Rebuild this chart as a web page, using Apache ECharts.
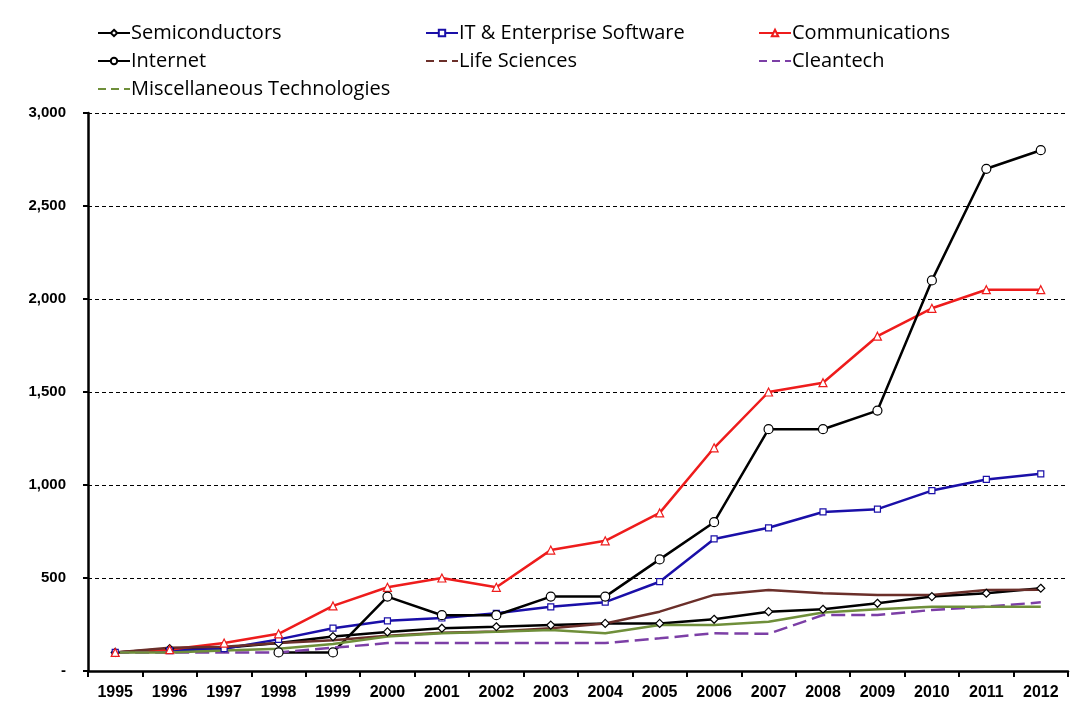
<!DOCTYPE html>
<html>
<head>
<meta charset="utf-8">
<script src="https://cdn.jsdelivr.net/npm/echarts@6/dist/echarts.min.js"></script>
<style>
  html, body { margin: 0; padding: 0; background: #fff; }
  #chart { width: 1073px; height: 706px; }
</style>
</head>
<body>
<div id="chart"></div>
<script>
  const years = ['1995', '1996', '1997', '1998', '1999', '2000', '2001', '2002', '2003',
    '2004', '2005', '2006', '2007', '2008', '2009', '2010', '2011', '2012'];

  const semiconductors = [100, 120, 125, 150, 185, 210, 230, 238, 247, 256, 256, 278, 319, 332, 364, 400, 418, 445];
  const itSoftware = [100, 110, 120, 170, 230, 270, 285, 310, 345, 370, 480, 710, 770, 855, 870, 970, 1030, 1060];
  const communications = [100, 115, 150, 200, 350, 450, 500, 450, 650, 700, 850, 1200, 1500, 1550, 1800, 1950, 2050, 2050];
  const internet = [null, null, null, 100, 100, 400, 300, 300, 400, 400, 600, 800, 1300, 1300, 1400, 2100, 2700, 2800];
  const lifeSciences = [100, 125, 130, 150, 165, 190, 205, 212, 230, 255, 319, 409, 435, 418, 409, 409, 435, 437];
  const cleantech = [100, 100, 100, 100, 125, 150, 150, 150, 150, 150, 176, 203, 200, 301, 301, 328, 346, 369];
  const miscTech = [100, 100, 110, 120, 145, 185, 203, 211, 220, 203, 247, 247, 265, 314, 332, 346, 346, 346];

  const yTicks = [0, 500, 1000, 1500, 2000, 2500, 3000];

  const chart = echarts.init(document.getElementById('chart'));

  const legendText = { fontFamily: 'Open Sans', fontSize: 20, color: '#000', padding: [0, 0, 0, -4] };
  const noMarker = { opacity: 0 };

  function lineSeries(name, data, color, symbol, size, dashed) {
    return {
      name: name,
      type: 'line',
      data: data,
      symbol: symbol,
      symbolSize: size,
      showSymbol: size > 0,
      itemStyle: { color: '#fff', borderColor: color, borderWidth: 1.2 },
      lineStyle: { color: color, width: 2.5, type: dashed ? [14, 6] : 'solid' },
      emphasis: { disabled: true },
      z: 2
    };
  }

  const legendBase = {
    top: 23, orient: 'vertical', itemGap: 8, padding: 0,
    itemWidth: 32, itemHeight: 8, textStyle: legendText
  };

  const option = {
    animation: false,
    backgroundColor: '#fff',
    legend: [
      Object.assign({ left: 97 }, legendBase, {
        data: ['Semiconductors', 'Internet',
          { name: 'Miscellaneous Technologies', itemStyle: noMarker, lineStyle: { type: [8, 5] } }]
      }),
      Object.assign({ left: 425 }, legendBase, {
        data: ['IT & Enterprise Software', { name: 'Life Sciences', itemStyle: noMarker, lineStyle: { type: [8, 5] } }]
      }),
      Object.assign({ left: 758 }, legendBase, {
        data: ['Communications', { name: 'Cleantech', itemStyle: noMarker, lineStyle: { type: [8, 5] } }]
      })
    ],
    grid: { left: 88, right: 5, top: 113, bottom: 35, containLabel: false },
    xAxis: {
      type: 'category',
      data: years,
      boundaryGap: true,
      axisLine: { lineStyle: { color: '#000', width: 2.5 } },
      axisTick: { show: true, length: 6, lineStyle: { color: '#000', width: 2 } },
      axisLabel: { fontFamily: 'Arial', fontWeight: 'bold', fontSize: 16, color: '#000', margin: 14 }
    },
    yAxis: {
      type: 'value',
      min: yTicks[0],
      max: yTicks[yTicks.length - 1],
      interval: 500,
      axisLine: { show: true, lineStyle: { color: '#000', width: 2.5 } },
      axisTick: { show: true, length: 5, lineStyle: { color: '#000', width: 2 } },
      axisLabel: {
        fontFamily: 'Arial', fontWeight: 'bold', fontSize: 15, color: '#000', margin: 22,
        formatter: v => v === 0 ? '-' : v.toLocaleString('en-US')
      },
      splitLine: { show: true, lineStyle: { color: '#000', width: 1, type: [4, 3] } }
    },
    series: [
      lineSeries('Semiconductors', semiconductors, '#000', 'diamond', 8, false),
      lineSeries('IT & Enterprise Software', itSoftware, '#1a0fa8', 'rect', 6, false),
      lineSeries('Communications', communications, '#ee1c1c', 'triangle', 8, false),
      lineSeries('Internet', internet, '#000', 'circle', 9, false),
      lineSeries('Life Sciences', lifeSciences, '#6b2f2a', 'circle', 0, false),
      lineSeries('Cleantech', cleantech, '#7c3fa6', 'circle', 0, true),
      lineSeries('Miscellaneous Technologies', miscTech, '#6f8f3a', 'circle', 0, false)
    ]
  };

  chart.setOption(option);
</script>
</body>
</html>
